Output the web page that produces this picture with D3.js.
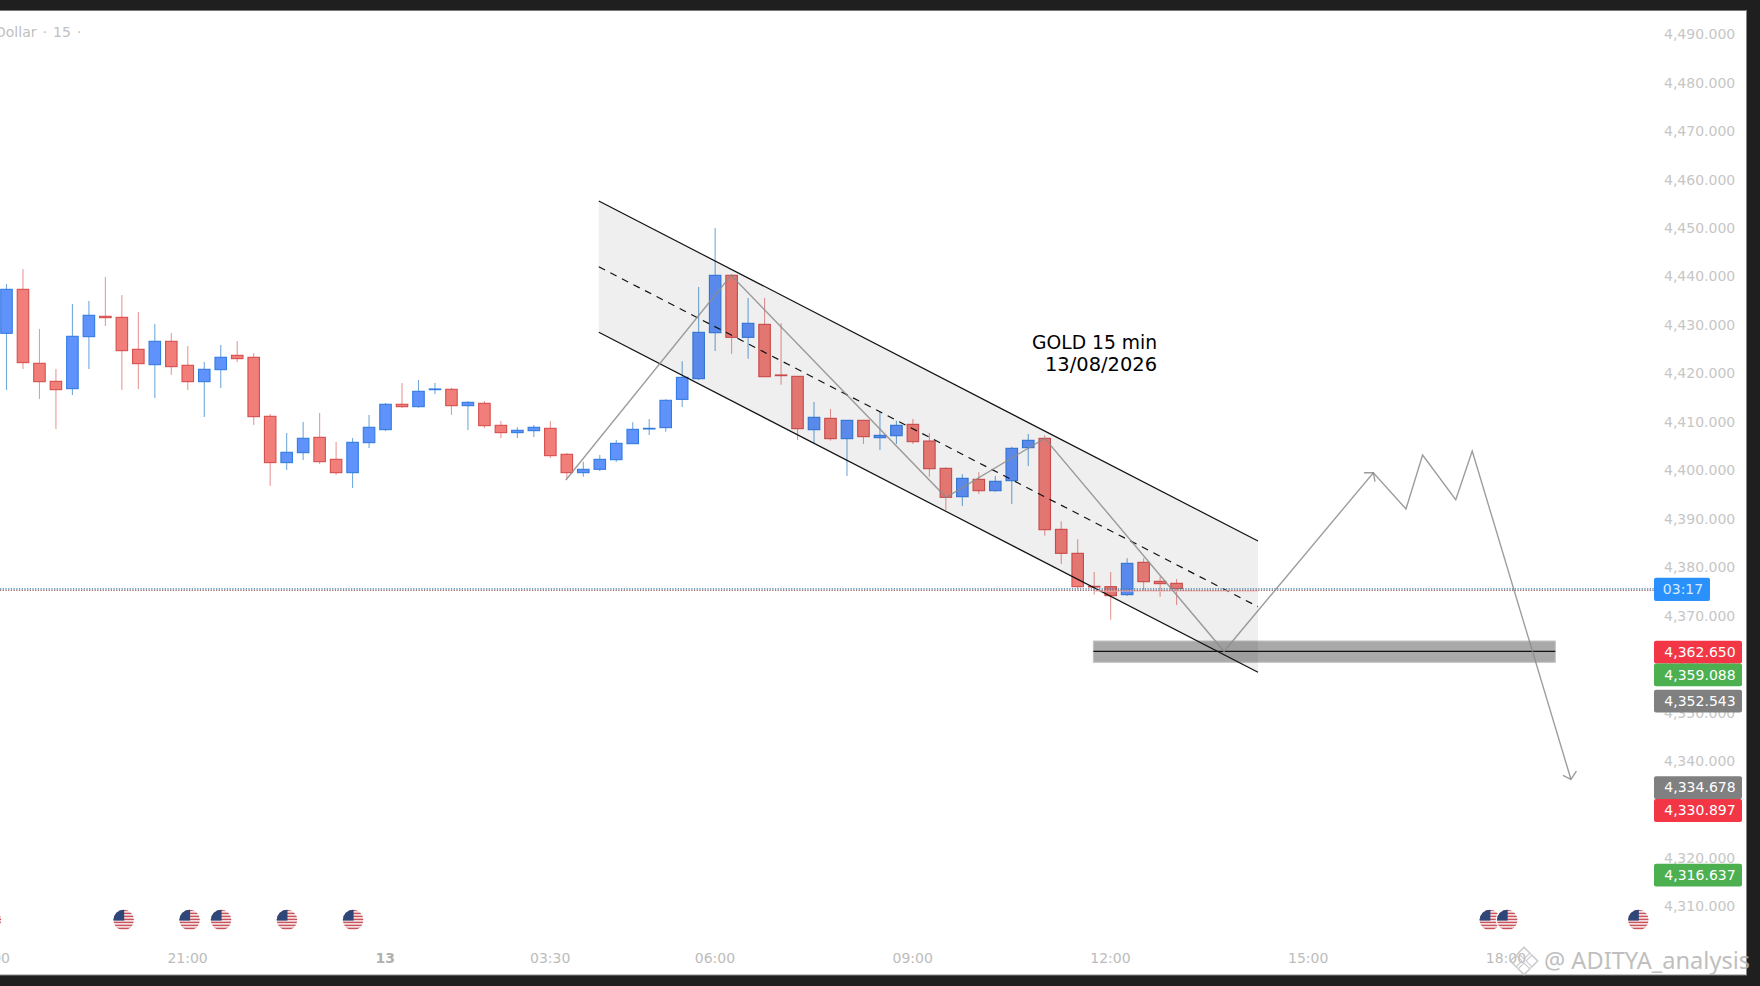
<!DOCTYPE html>
<html><head><meta charset="utf-8">
<script src="https://cdn.jsdelivr.net/npm/d3@7/dist/d3.min.js"></script>
<style>html,body{margin:0;padding:0;background:#fff;overflow:hidden}svg{display:block}text{font-family:"DejaVu Sans",sans-serif}</style>
</head><body><svg id="c" width="1760" height="986"></svg>
<script>
const highs=[4438.35,4441.45,4429.06,4420.81,4434.22,4434.84,4439.8,4436.08,4432.57,4430.1,4428.24,4425.56,4422.25,4425.76,4426.59,4424.11,4411.52,4407.6,4409.87,4411.73,4405.74,4406.57,4411.31,4413.79,4417.92,4418.54,4417.92,4416.89,4414.13,4414.2,4410.08,4408.77,4409.25,4410.08,4403.47,4401.68,4403.05,4406.15,4409.8,4410.48,4414.54,4422.39,4437.73,4449.91,4440.41,4435.46,4435.46,4430.23,4419.36,4413.99,4412.55,4410.28,4410.28,4412,4410.14,4410.48,4407.53,4400.51,4399.06,4399.48,4398.72,4404.77,4407.39,4407.11,4389.36,4385.65,4378.91,4378.91,4381.73,4381.73,4377.94,4377.46];
const bodyTops=[4437.25,4437.25,4421.98,4418.26,4427.55,4431.89,4431.68,4431.47,4424.87,4426.52,4426.52,4421.57,4420.74,4423.22,4423.63,4423.22,4411.04,4403.61,4406.5,4406.7,4402.16,4405.67,4408.77,4413.52,4413.52,4416.2,4416.68,4416.61,4413.93,4413.72,4409.18,4408.15,4408.77,4408.56,4403.2,4400.1,4402.16,4405.46,4408.35,4408.56,4414.34,4419.08,4428.37,4440.14,4440.14,4430.23,4430.02,4419.57,4419.29,4410.83,4410.62,4410.21,4410.21,4407.11,4409.18,4409.38,4405.94,4400.3,4398.24,4398.03,4397.62,4404.43,4406.08,4406.49,4387.71,4382.76,4375.95,4375.88,4380.69,4380.9,4376.98,4376.57];
const bodyBottoms=[4428.17,4422.12,4418.19,4416.54,4416.75,4427.48,4431.4,4424.59,4421.91,4421.7,4421.29,4418.19,4418.19,4420.67,4422.94,4410.97,4401.48,4401.48,4403.54,4401.68,4399.41,4399.41,4405.6,4408.29,4413.03,4413.03,4416.54,4413.24,4413.24,4409.11,4407.67,4407.67,4408.08,4402.92,4399.41,4399.41,4400.1,4402.09,4405.39,4408.42,4408.7,4414.54,4418.81,4428.3,4427.34,4427.34,4419.22,4419.43,4408.49,4408.28,4406.43,4406.43,4406.84,4406.63,4407.04,4405.81,4400.23,4394.32,4394.45,4395.69,4395.69,4397.76,4404.57,4387.64,4382.76,4375.88,4375.81,4374.02,4374.23,4376.91,4376.5,4375.47];
const lows=[4416.47,4420.81,4414.62,4408.42,4415.44,4420.81,4429.68,4416.47,4416.68,4414.82,4419.57,4416.47,4410.9,4416.89,4422.25,4409.25,4396.66,4399.96,4402.03,4401.2,4398.93,4396.25,4404.5,4408.01,4412.83,4412.83,4415.65,4411.31,4408.22,4408.63,4406.57,4406.57,4406.77,4402.44,4398.04,4398.58,4399.75,4401.68,4405.33,4407.18,4407.87,4412.96,4418.53,4424.52,4423.97,4422.94,4419.22,4417.57,4406.15,4405.46,4406.01,4398.72,4405.33,4404.09,4405.33,4405.33,4398.58,4391.7,4392.53,4395,4395.49,4392.94,4400.78,4386.4,4380.56,4375.47,4374.23,4369.07,4373.95,4375.19,4373.82,4372.1];
const up=[1,0,0,0,1,1,0,0,0,1,0,0,1,1,0,0,0,1,1,0,0,1,1,1,0,1,1,0,1,0,0,1,1,0,0,1,1,1,1,1,1,1,1,1,0,1,0,0,0,1,0,1,0,1,1,0,0,0,1,0,1,1,1,0,0,0,0,0,1,0,0,0];

const priceTicks=[4310,4320,4330,4340,4350,4360,4370,4380,4390,4400,4410,4420,4430,4440,4450,4460,4470,4480,4490];
const timeTickIndex=[-1,11,23,33,43,55,67,79,91];
const timeTickLabels=["18:00","21:00","13","03:30","06:00","09:00","12:00","15:00","18:00"];
const flagIndex=[-0.95,7.11,11.11,13.02,17.02,21.03,90.01,91.06,99.02];

const tagValues=[4362.650,4359.088,4352.543,4334.678,4330.897,4316.637];
const tagColours=["#f23645","#4caf50","#808080","#808080","#f23645","#4caf50"];
const lastPrice=4375.34, countdown="03:17";

const channelStart=35.94, channelEnd=75.94;
const channelUpper=[4455.48,4385.3], channelMid=[4441.9,4371.74], channelLower=[4428.38,4358.2];
const zigzagIndex=[33.94,43.97,57.01,63,73.88,82.94,84.92,85.93,87.94,88.94,94.93];
const zigzagPrice=[4397.89,4440.14,4394.32,4406.5,4362.54,4399.4,4391.91,4403.05,4393.83,4403.88,4336.12];
const barbA=[[82.37,4399.4],[82.94,4399.4],[83.04,4397.54]];
const barbB=[[94.44,4336.95],[94.93,4336.12],[95.26,4337.83]];
const zoneIndex=[65.95,93.98], zonePrice=[4364.66,4360.27], zoneLine=4362.54;

const svg=d3.select("#c");
const x=d3.scaleLinear().domain([0,1]).range([6.5,22.98]);
const y=d3.scaleLinear().domain([4380,4340]).range([566.7,760.5]);
const bw=11.5;
const defs=svg.append("defs");
defs.append("clipPath").attr("id","flag").append("circle").attr("r",10.3);
defs.append("clipPath").attr("id","pane").append("rect").attr("width",1746).attr("height",986);

svg.append("rect").attr("width",1760).attr("height",986).attr("fill","#fff");
const g=svg.append("g").attr("clip-path","url(#pane)");

// faint top legend
g.append("text").attr("x",-5).attr("y",36.5).attr("font-size",14).attr("fill","#c0c0c0").attr("word-spacing","1.6px").text("Dollar · 15 ·");

// price axis and time axis
const yAxis=d3.axisRight(y).tickValues(priceTicks).tickSize(0).tickPadding(0).tickFormat(d3.format(",.3f"));
const ya=g.append("g").attr("transform","translate(1664,0.5)").call(yAxis);
ya.select(".domain").remove();
ya.selectAll("text").attr("font-size",14).attr("fill","#c6c6c6").attr("font-family","DejaVu Sans");
const xAxis=d3.axisBottom(x).tickValues(timeTickIndex).tickSize(0).tickPadding(0).tickFormat((d,i)=>timeTickLabels[i]);
const xa=g.append("g").attr("transform","translate(-0.7,953)").call(xAxis);
xa.select(".domain").remove();
xa.selectAll("text").attr("font-size",14).attr("font-family","DejaVu Sans")
  .attr("font-weight",(d,i)=>timeTickLabels[i]==="13"?"bold":"normal")
  .attr("fill",(d,i)=>timeTickLabels[i]==="13"?"#b0b0b0":"#bcbcbc");

// candles
const idx=d3.range(highs.length);
const cg=g.append("g");
cg.selectAll("line").data(idx).join("line")
  .attr("x1",i=>x(i)).attr("x2",i=>x(i)).attr("y1",i=>y(highs[i])).attr("y2",i=>y(lows[i]))
  .attr("stroke",i=>up[i]?"#74aadb":"#e89a98").attr("stroke-width",1.1);
cg.selectAll("rect").data(idx).join("rect")
  .attr("x",i=>x(i)-bw/2).attr("width",bw)
  .attr("y",i=>y(bodyTops[i])).attr("height",i=>Math.max(0.6,y(bodyBottoms[i])-y(bodyTops[i])))
  .attr("fill",i=>up[i]?"#5f93fb":"#f27e79").attr("stroke",i=>up[i]?"#337be0":"#d64e4e").attr("stroke-width",1.1);

// zone
g.append("rect").attr("x",x(zoneIndex[0])).attr("width",x(zoneIndex[1])-x(zoneIndex[0]))
  .attr("y",y(zonePrice[0])).attr("height",y(zonePrice[1])-y(zonePrice[0]))
  .attr("fill","#a9a9a9").attr("stroke","#c2c2c2").attr("stroke-width",1);

// channel
const area=d3.area().x(d=>x(d[0])).y0(d=>y(d[1])).y1(d=>y(d[2]));
g.append("path").datum([[channelStart,channelUpper[0],channelLower[0]],[channelEnd,channelUpper[1],channelLower[1]]])
  .attr("d",area).attr("fill","#000").attr("fill-opacity",0.062);
const seg=(a,dash)=>g.append("line").attr("x1",x(channelStart)).attr("x2",x(channelEnd))
  .attr("y1",y(a[0])).attr("y2",y(a[1])).attr("stroke","#111").attr("stroke-width",1.2).attr("stroke-dasharray",dash||null);
seg(channelUpper);seg(channelLower);seg(channelMid,"7 6");

g.append("line").attr("x1",x(zoneIndex[0])).attr("x2",x(zoneIndex[1])).attr("y1",y(zoneLine)).attr("y2",y(zoneLine))
  .attr("stroke","#111").attr("stroke-width",1.2);

// last-price line: blue over red dotted rows
const ly=y(lastPrice);
g.append("line").attr("x1",x(66)).attr("x2",x(channelEnd)).attr("y1",ly+1.6).attr("y2",ly+1.6)
  .attr("stroke","#f4b9b9").attr("stroke-width",1.1);
g.append("line").attr("x1",0).attr("x2",1654).attr("y1",ly-0.5).attr("y2",ly-0.5)
  .attr("stroke","#3f82ab").attr("stroke-width",1.3).attr("stroke-dasharray","1.3 1.4");
g.append("line").attr("x1",0).attr("x2",1654).attr("y1",ly+1).attr("y2",ly+1)
  .attr("stroke","#a66e6e").attr("stroke-width",1.2).attr("stroke-dasharray","1.3 1.4");

// zigzag and arrows
const line=d3.line().x(d=>x(d[0])).y(d=>y(d[1]));
const zz=g.append("g").attr("fill","none").attr("stroke","#8c8c8c").attr("stroke-opacity",0.85).attr("stroke-width",1.4).attr("stroke-linejoin","miter");
zz.append("path").attr("d",line(zigzagIndex.map((v,i)=>[v,zigzagPrice[i]])));
zz.append("path").attr("d",line(barbA));
zz.append("path").attr("d",line(barbB));

// note
const note=g.append("g").attr("font-size",20).attr("fill","#000").attr("text-anchor","end");
note.append("text").attr("x",1157).attr("y",348.5).attr("textLength",125).attr("lengthAdjust","spacingAndGlyphs").text("GOLD 15 min");
note.append("text").attr("x",1157).attr("y",371).attr("textLength",112).attr("lengthAdjust","spacingAndGlyphs").text("13/08/2026");

// event flags
const fl=g.selectAll("g.flag").data(flagIndex).join("g").attr("class","flag")
  .attr("transform",d=>`translate(${x(d)},920)`);
fl.append("circle").attr("r",11.4).attr("fill","#fff");
const f=fl.append("g").attr("clip-path","url(#flag)");
f.append("rect").attr("x",-11).attr("y",-11).attr("width",22).attr("height",22).attr("fill","#fff");
d3.range(7).forEach(k=>f.append("rect").attr("x",-11).attr("width",22).attr("y",-10.4+k*3).attr("height",1.6).attr("fill","#c9535a"));
f.append("rect").attr("x",-11).attr("y",-11).attr("width",11.5).attr("height",11.6).attr("fill","#2f4678");

// price tags
let prev=-Infinity;
const tagY=tagValues.map(v=>{const c=Math.max(y(v)+1.4,prev+22.8);prev=c;return c;});
const tags=g.selectAll("g.tag").data(tagValues).join("g").attr("class","tag").attr("transform",(d,i)=>`translate(1654,${tagY[i]})`);
tags.append("rect").attr("y",-11.4).attr("height",22.8).attr("width",88).attr("rx",2).attr("fill",(d,i)=>tagColours[i]);
tags.append("text").attr("x",46).attr("y",4.6).attr("text-anchor","middle").attr("font-size",14).attr("fill","#fff").text(d=>d3.format(",.3f")(d));
const cd=g.append("g").attr("transform",`translate(1654,${y(lastPrice)})`);
cd.append("rect").attr("y",-11.6).attr("height",23.2).attr("width",56).attr("rx",2).attr("fill","#2a90fb");
cd.append("text").attr("x",29).attr("y",4.6).attr("text-anchor","middle").attr("font-size",14).attr("fill","#d6ebff").text(countdown);

// frame
const frame=svg.append("g");
frame.append("rect").attr("width",1760).attr("height",10).attr("fill","#1f1f1f");
frame.append("rect").attr("y",10).attr("width",1760).attr("height",1).attr("fill","#777");
frame.append("rect").attr("y",975).attr("width",1760).attr("height",11).attr("fill","#1f1f1f");
frame.append("rect").attr("y",974.5).attr("width",1760).attr("height",1).attr("fill","#888");
frame.append("rect").attr("x",1747).attr("width",13).attr("height",986).attr("fill","#1f1f1f");
frame.append("rect").attr("x",1746).attr("y",10).attr("width",1).attr("height",965).attr("fill","#888");

// watermark
const wm=svg.append("g").attr("opacity",0.85);
wm.append("text").attr("x",1544).attr("y",969).attr("font-size",23.6).attr("fill","#b5b5b5").attr("style","font-family:'Noto Sans'").text("@ ADITYA_analysis");
const diamonds=[[1524,953,6],[1524,969,6],[1516,961,6],[1532,961,6],[1524,961,13.5]];
wm.selectAll("path").data(diamonds).join("path")
  .attr("d",d=>`M${d[0]},${d[1]-d[2]}L${d[0]+d[2]},${d[1]}L${d[0]},${d[1]+d[2]}L${d[0]-d[2]},${d[1]}Z`)
  .attr("fill","none").attr("stroke","#c4c4c4").attr("stroke-width",1.1);
</script></body></html>
